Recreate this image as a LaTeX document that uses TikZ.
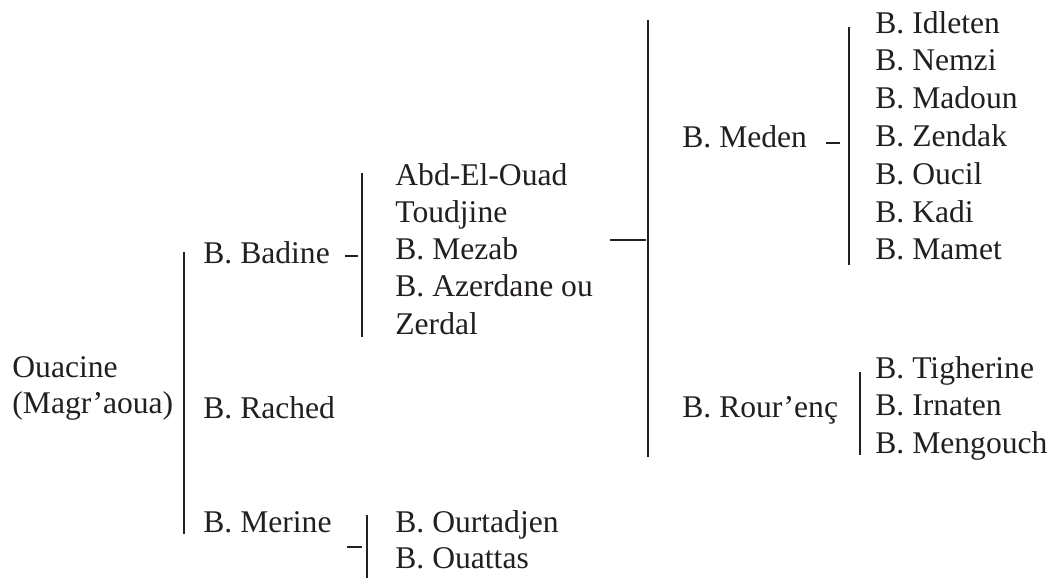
\documentclass[tikz,border=0pt]{standalone}
\usepackage{fontspec}
\setmainfont{Liberation Serif}
\usetikzlibrary{positioning}
\definecolor{ink}{RGB}{35,31,32}

\begin{document}
\begin{tikzpicture}[x=0.5pt,y=-0.5pt,
    tribe/.style={anchor=base west,inner sep=0pt,text=ink,font=\fontsize{15.8}{18.8}\selectfont},
    bar/.style={draw=ink,line width=1.4pt}]
    \useasboundingbox (0,0) rectangle (1053,578);

    % root
    \node [tribe] (ouacine) at (12,377) {Ouacine};
    \node [tribe] (magraoua) at (12,413) {(Magr’aoua)};

    % first level
    \node [tribe] (badine) at (203,263) {B. Badine};
    \node [tribe] (rached) at (203,418) {B. Rached};
    \node [tribe] (merine) at (203,532) {B. Merine};

    % children of B. Badine
    \foreach \n/\t [count=\i] in {abd/Abd-El-Ouad,toudjine/Toudjine,mezab/B. Mezab,
        azerdane/B. Azerdane ou,zerdal/Zerdal}
      \node [tribe] (\n) at (395,{185+37.3*(\i-1)}) {\t};

    % children of B. Merine
    \node [tribe] (ourtadjen) at (395,532) {B. Ourtadjen};
    \node [tribe] (ouattas) at (395,568) {B. Ouattas};

    % second group
    \node [tribe] (meden) at (682,147) {B. Meden};
    \node [tribe] (rourenc) at (682,417) {B. Rour’enç};

    \foreach \n/\t [count=\i] in {idleten/B. Idleten,nemzi/B. Nemzi,madoun/B. Madoun,
        zendak/B. Zendak,oucil/B. Oucil,kadi/B. Kadi,mamet/B. Mamet}
      \node [tribe] (\n) at (875,{33+37.8*(\i-1)}) {\t};

    \foreach \n/\t [count=\i] in {tigherine/B. Tigherine,irnaten/B. Irnaten,mengouch/B. Mengouch}
      \node [tribe] (\n) at (875,{378+37.5*(\i-1)}) {\t};

    % bracket ends
    \coordinate (main top) at (184,252);
    \coordinate (main bot) at (184,534);
    \coordinate (badine top) at (362,173);
    \coordinate (badine bot) at (362,337);
    \coordinate (badine in) at (345,256);
    \coordinate (badine out) at (358,256);
    \coordinate (merine top) at (367,515);
    \coordinate (merine bot) at (367,578);
    \coordinate (merine in) at (347,547);
    \coordinate (merine out) at (362,547);
    \coordinate (link in) at (610,240);
    \coordinate (link out) at (646,240);
    \coordinate (big top) at (648,20);
    \coordinate (big bot) at (648,457);
    \coordinate (meden top) at (849,27);
    \coordinate (meden bot) at (849,265);
    \coordinate (meden in) at (826,143);
    \coordinate (meden out) at (840,143);
    \coordinate (rourenc top) at (860,372);
    \coordinate (rourenc bot) at (860,455);

    \draw [bar] (main top) -- (main bot);
    \draw [bar] (badine top) -- (badine bot);
    \draw [bar] (badine in) -- (badine out);
    \draw [bar] (merine top) -- (merine bot);
    \draw [bar] (merine in) -- (merine out);
    \draw [bar] (link in) -- (link out);
    \draw [bar] (big top) -- (big bot);
    \draw [bar] (meden top) -- (meden bot);
    \draw [bar] (meden in) -- (meden out);
    \draw [bar] (rourenc top) -- (rourenc bot);
\end{tikzpicture}
\end{document}
